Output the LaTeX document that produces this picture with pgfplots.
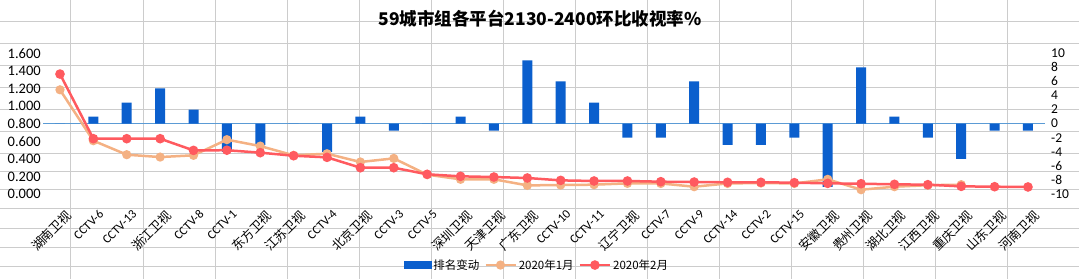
\documentclass[border=0pt]{standalone}
\usepackage{fontspec}
\setmainfont{Carlito}
\newfontfamily\cjk{Noto Sans CJK SC}
\usepackage{pgfplots}
\pgfplotsset{compat=1.18}
\definecolor{barBlue}{HTML}{0B5FCD}
\definecolor{zeroBlue}{HTML}{5B9BD5}
\definecolor{orangeL}{HTML}{F4B183}
\definecolor{redL}{HTML}{FF5A5F}
\definecolor{cellGray}{HTML}{CCCCCC}
\begin{document}
\begin{tikzpicture}
\path[use as bounding box] (-43.3pt,-85pt) rectangle (1035.7pt,194pt);
% spreadsheet cell grid behind the chart
\begin{axis}[
  at={(-43.3pt,-85pt)}, anchor=south west,
  scale only axis, width=1079pt, height=279pt,
  xmin=0, xmax=1079, ymin=0, ymax=279, y dir=reverse,
  hide axis,
]
\pgfplotsinvokeforeach{71,143,215,287,359,431,503,575,647,719,791,863,935,1007}{
  \addplot[cellGray, line width=1pt, forget plot] coordinates {(#1,0) (#1,279)};
}
\pgfplotsinvokeforeach{21,43,65.5,87.5,109.5,131.5,153.5,171.5,189.5,208,228,247,266}{
  \addplot[cellGray, line width=1pt, forget plot] coordinates {(0,#1) (1079,#1)};
}
\end{axis}
% bar axis (right)
\begin{axis}[
  scale only axis, width=1001.4pt, height=140.7pt,
  xmin=-0.5, xmax=29.5, ymin=-10, ymax=10,
  axis line style={draw=none}, tick style={draw=none},
  yticklabel pos=right,
  ytick={-10,-8,...,10},
  yticklabel style={font=\fontsize{13.5}{13.5}\selectfont, xshift=3pt},
  /pgf/number format/assume math mode=true,
  xtick={0,...,29},
  xticklabels={{\cjk 湖南卫视},CCTV-6,CCTV-13,{\cjk 浙江卫视},CCTV-8,CCTV-1,{\cjk 东方卫视},{\cjk 江苏卫视},CCTV-4,{\cjk 北京卫视},CCTV-3,CCTV-5,{\cjk 深圳卫视},{\cjk 天津卫视},{\cjk 广东卫视},CCTV-10,CCTV-11,{\cjk 辽宁卫视},CCTV-7,CCTV-9,CCTV-14,CCTV-2,CCTV-15,{\cjk 安徽卫视},{\cjk 贵州卫视},{\cjk 湖北卫视},{\cjk 江西卫视},{\cjk 重庆卫视},{\cjk 山东卫视},{\cjk 河南卫视}},
  xticklabel style={rotate=45, anchor=north east, font=\fontsize{12.5}{12.5}\selectfont, inner sep=1pt, yshift=-13pt, xshift=-6pt},
  extra y ticks={0}, extra y tick labels={},
  extra y tick style={grid=major, major grid style={draw=zeroBlue, line width=1pt}},
]
\addplot[ybar, bar width=10pt, fill=barBlue, draw=none] coordinates {
(0,0) (1,1) (2,3) (3,5) (4,2) (5,-4) (6,-3) (7,0) (8,-4) (9,1)
(10,-1) (11,0) (12,1) (13,-1) (14,9) (15,6) (16,3) (17,-2) (18,-2) (19,6)
(20,-3) (21,-3) (22,-2) (23,-9) (24,8) (25,1) (26,-2) (27,-5) (28,-1) (29,-1)};
\end{axis}
% line axis (left)
\begin{axis}[
  scale only axis, width=1001.4pt, height=140.7pt,
  xmin=-0.5, xmax=29.5, ymin=0, ymax=1.6,
  axis line style={draw=none}, tick style={draw=none},
  xtick=\empty,
  ytick={0,0.2,...,1.6},
  yticklabel pos=left,
  yticklabel style={font=\fontsize{14.5}{14.5}\selectfont, xshift=1pt, /pgf/number format/.cd, fixed, fixed zerofill, precision=3, assume math mode=true},
  title={\cjk\bfseries 59城市组各平台2130-2400环比收视率\%},
  title style={at={(0.496,1.205)}, anchor=center, font=\fontsize{17.5}{17.5}\selectfont},
  legend style={at={(0.493,-0.505)}, anchor=center, draw=none, fill=none,
    font=\cjk\fontsize{11.5}{13}\selectfont,
    /tikz/every even column/.append style={column sep=3pt}},
  legend columns=-1,
]
\addlegendimage{legend image code/.code={\fill[barBlue] (0pt,-3.5pt) rectangle (27pt,3.5pt);}}
\addlegendentry{排名变动}
\addplot[color=orangeL, line width=2.5pt, mark=*, mark size=3.3pt,
  legend image code/.code={\draw[mark repeat=2,mark phase=2] plot coordinates {(0pt,0pt) (15pt,0pt) (30pt,0pt)};}] coordinates {
(0,1.185) (1,0.606) (2,0.447) (3,0.420) (4,0.440) (5,0.618) (6,0.545) (7,0.440) (8,0.458) (9,0.364)
(10,0.405) (11,0.220) (12,0.167) (13,0.167) (14,0.098) (15,0.102) (16,0.106) (17,0.121) (18,0.120) (19,0.083)
(20,0.120) (21,0.125) (22,0.120) (23,0.167) (24,0.049) (25,0.083) (26,0.100) (27,0.106)};
\addlegendentry{2020年1月}
\addplot[color=redL, line width=2.5pt, mark=*, mark size=3.5pt,
  legend image code/.code={\draw[mark repeat=2,mark phase=2] plot coordinates {(0pt,0pt) (15pt,0pt) (30pt,0pt)};}] coordinates {
(0,1.364) (1,0.629) (2,0.629) (3,0.629) (4,0.496) (5,0.498) (6,0.470) (7,0.435) (8,0.417) (9,0.299)
(10,0.299) (11,0.224) (12,0.201) (13,0.193) (14,0.182) (15,0.155) (16,0.148) (17,0.148) (18,0.140) (19,0.136)
(20,0.133) (21,0.133) (22,0.129) (23,0.121) (24,0.117) (25,0.110) (26,0.106) (27,0.087) (28,0.083) (29,0.080)};
\addlegendentry{2020年2月}
\end{axis}
\end{tikzpicture}
\end{document}
